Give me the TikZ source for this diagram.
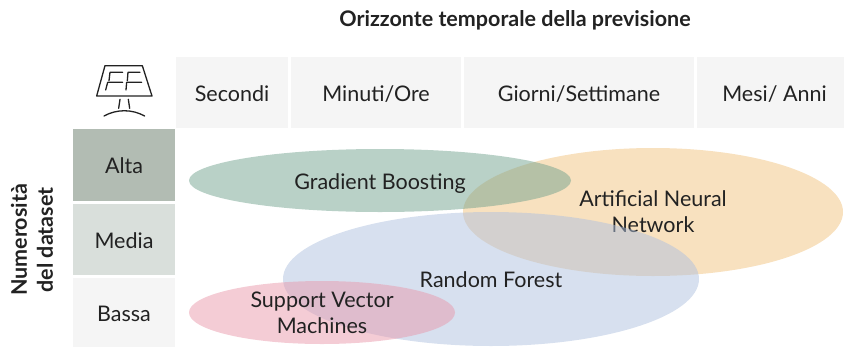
\documentclass[tikz,border=0pt]{standalone}
\usepackage{fontspec}
\setmainfont{Lato}
\usetikzlibrary{shapes.geometric}
\definecolor{inkgray}{HTML}{222222}
\definecolor{cellgray}{HTML}{F5F5F5}
\definecolor{altafill}{HTML}{B2BCB3}
\definecolor{mediafill}{HTML}{D9DFDB}
\definecolor{annfill}{HTML}{F1C37F}
\definecolor{gbfill}{HTML}{73A38F}
\definecolor{rffill}{HTML}{AFC1DF}
\definecolor{svmfill}{HTML}{E999AB}
\tikzstyle{cell} = [fill=cellgray, rectangle, inner sep=0pt, text=inkgray,
    text height=17pt, text depth=0pt, font=\fontsize{21.5}{26}\selectfont]
\tikzstyle{blob} = [ellipse, inner sep=0pt, fill opacity=0.5, text opacity=1,
    text=inkgray, align=center, font=\fontsize{21.5}{26}\selectfont]
\tikzstyle{oneline} = [text height=17pt, text depth=0pt]
\tikzstyle{heading} = [text=inkgray, align=center,
    font=\fontsize{21.5}{26}\selectfont\bfseries]
\tikzstyle{iconline} = [draw=inkgray, line width=1.3pt, line cap=round, line join=round]

\begin{document}
\begin{tikzpicture}[x=1pt, y=-1pt]
    \useasboundingbox (0,0) rectangle (844,346);
    % We start with the titles
    \node [heading] (title) at (515,20) {Orizzonte temporale della previsione};
    \node [heading, rotate=90] (ylabel) at (32,240) {Numerosità\\del dataset};

    % The header cells
    \node [cell, minimum width=112pt, minimum height=71pt] (secondi) at (232,92.5) {Secondi};
    \node [cell, minimum width=170pt, minimum height=71pt, right of=secondi, node distance=144pt] (minuti) {Minuti/Ore};
    \node [cell, minimum width=230pt, minimum height=71pt, right of=minuti, node distance=203pt] (giorni) {Giorni/Settimane};
    % This one runs past the page, its text is not in the middle of what shows
    \node [cell, minimum width=155pt, minimum height=71pt, right of=giorni, node distance=195.5pt] (mesi) {Mesi/ Anni};

    % The row cells
    \node [cell, fill=altafill, minimum width=102pt, minimum height=72pt] (alta) at (124,165) {Alta};
    \node [cell, fill=mediafill, minimum width=102pt, minimum height=71pt, below of=alta, node distance=74.5pt] (media) {Media};
    \node [cell, minimum width=102pt, minimum height=70pt, below of=media, node distance=73.5pt] (bassa) {Bassa};

    % Orange goes first, the blue one has to tint its text
    \node [blob, fill=annfill, minimum width=380pt, minimum height=128pt] (ann) at (653,212) {Artificial Neural\\Network};
    \node [blob, oneline, fill=gbfill, minimum width=382pt, minimum height=63pt] (gb) at (380,180.5) {Gradient Boosting};
    \node [blob, oneline, fill=rffill, minimum width=416pt, minimum height=134pt] (rf) at (491,279) {Random Forest};
    \node [blob, fill=svmfill, minimum width=266pt, minimum height=63pt] (svm) at (322,312.5) {Support Vector\\Machines};

    % The panel, in the pixels of a 3x crop
    \begin{scope}[shift={(60,40)}, x=0.3333pt, y=-0.3333pt]
        \draw [iconline] (135,77) -- (247,77) -- (276,168) -- (110,168) -- cycle;
        \draw [iconline] (188,97) -- (150,97) -- (147,122);
        \draw [iconline] (188,127) -- (143,127) -- (137,150);
        \draw [iconline] (240,97) -- (204,97) -- (202,122);
        \draw [iconline] (245,127) -- (200,127) -- (198,150);
        \draw [iconline] (180,178) -- (176,205);
        \draw [iconline] (205,178) -- (209,205);
        \draw [iconline] (132,228) .. controls (170,207) and (216,207) .. (254,228);
    \end{scope}
\end{tikzpicture}
\end{document}
